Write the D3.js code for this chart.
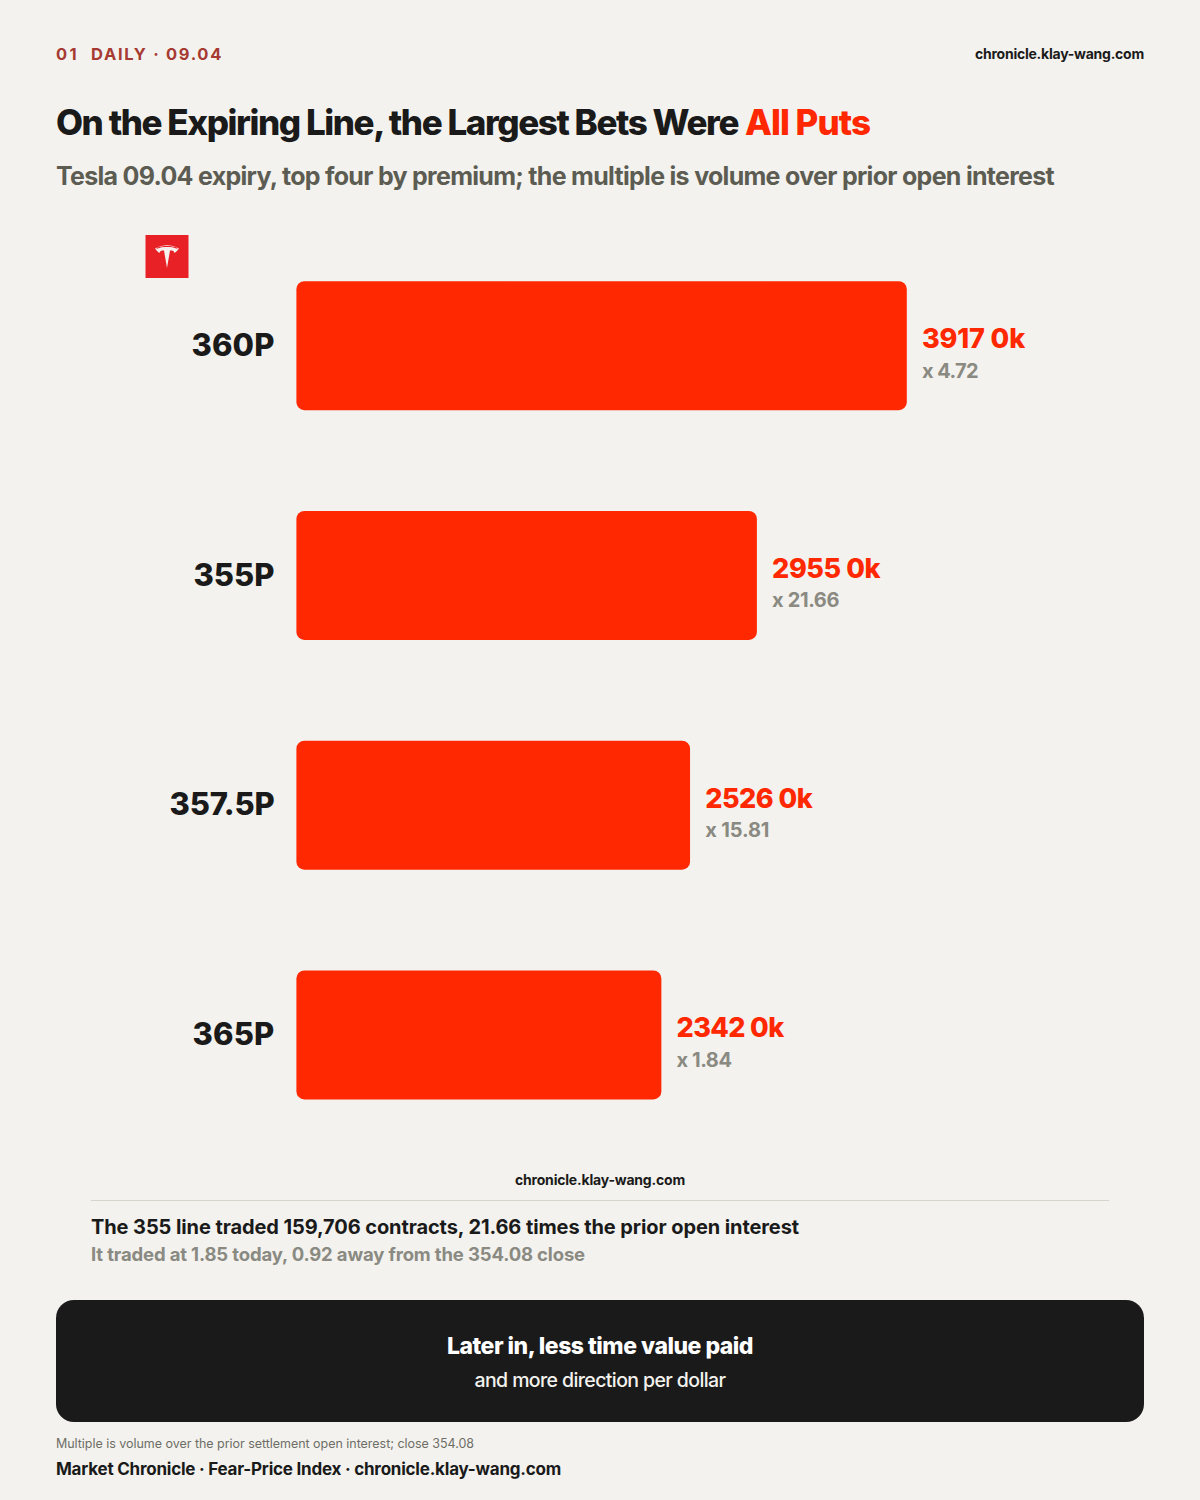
<!DOCTYPE html>
<html><head><meta charset="utf-8">
<script src="https://cdn.jsdelivr.net/npm/d3@7"></script>
<style>html,body{margin:0;padding:0;background:#f3f2ee}svg{display:block}text{font-family:Inter,sans-serif;white-space:pre}</style>
</head><body><svg id="c" width="1200" height="1500"></svg>
<script>
const strikes = ["360P","355P","357.5P","365P"];
const premiums = [3917,2955,2526,2342];
const premiumLabels = ["3917 0k","2955 0k","2526 0k","2342 0k"];
const multiples = ["x 4.72","x 21.66","x 15.81","x 1.84"];
const premiumLabelWidths = [103,108,107,107];
const multipleWidths = [56,67,64,55];
const strikeWidths = [83,81,105,82];

const RED="#ff2800", INK="#1a1a1a", GREY="#8a8a82";
const svg=d3.select("#c");
svg.append("rect").attr("width",1200).attr("height",1500).attr("fill","#f3f2ee");
// Tighten a text's tracking until it spans the measured width.
function fit(t,w){
  const n=t.text().length, len=t.node().getComputedTextLength();
  t.attr("letter-spacing",(w-len)/n);
  return t;
}
function T(x,y,s,size,weight,fill,w,anchor){
  const t=svg.append("text").attr("x",x).attr("y",y).text(s).attr("font-size",size).attr("font-weight",weight).attr("fill",fill);
  if(anchor)t.attr("text-anchor",anchor);
  if(w)fit(t,w);
  return t;
}
T(56,60,"01",16.5,700,"#a63a32",23);
T(91,60,"DAILY · 09.04",16.5,700,"#a63a32",132);
T(1144,59,"chronicle.klay-wang.com",14,700,INK,169,"end");
T(56,135,"On the Expiring Line, the Largest Bets Were",35,800,INK,682);
T(745,135,"All Puts",35,800,RED,125);
T(56,185,"Tesla 09.04 expiry, top four by premium; the multiple is volume over prior open interest",25,700,"#5c5c52",998);

// Logo
const logo=svg.append("g").attr("transform","translate(145.5,235)");
logo.append("rect").attr("width",43).attr("height",43).attr("fill","#e82127");
logo.append("path").attr("fill","#f6f1ee").attr("d","M21.5 33 L24.5 15.5 C27.5 15.5 28.5 16 29 18 C31 16.5 32 15.5 33.5 13.5 C29 10.8 25 10.2 21.5 10.2 C18 10.2 14 10.8 9.5 13.5 C11 15.5 12 16.5 14 18 C14.5 16 15.5 15.5 18.5 15.5 Z");
logo.append("path").attr("fill","#e82127").attr("d","M10.8 13 C14 11.4 18 11 21.5 11 C25 11 29 11.4 32.2 13 L31.6 13.7 C28.5 12.4 25 12 21.5 12 C18 12 14.5 12.4 11.4 13.7 Z");

const x=d3.scaleLinear().domain([0,3917]).range([296.4,906.8]);
const y=d3.scalePoint().domain(strikes).range([345.7,1034.9]);
const h=129;
const rows=svg.selectAll("g.row").data(strikes.map((s,i)=>({s,v:premiums[i],l:premiumLabels[i],m:multiples[i],i}))).enter().append("g").attr("class","row");
rows.append("rect").attr("x",x(0)).attr("y",d=>y(d.s)-h/2).attr("width",d=>x(d.v)-x(0)).attr("height",h).attr("rx",8).attr("fill",RED);
rows.append("text").attr("x",274.5).attr("y",d=>y(d.s)+10.3).attr("text-anchor","end").attr("font-size",31).attr("font-weight",800).attr("fill",INK).text(d=>d.s).each(function(d){fit(d3.select(this),strikeWidths[d.i]);});
rows.append("text").attr("x",d=>x(d.v)+15.2).attr("y",d=>y(d.s)+2.5).attr("font-size",27).attr("font-weight",800).attr("fill",RED).text(d=>d.l).each(function(d){fit(d3.select(this),premiumLabelWidths[d.i]);});
rows.append("text").attr("x",d=>x(d.v)+15.2).attr("y",d=>y(d.s)+31.8).attr("font-size",20).attr("font-weight",700).attr("fill",GREY).text(d=>d.m).each(function(d){fit(d3.select(this),multipleWidths[d.i]);});

T(600,1185,"chronicle.klay-wang.com",14,700,INK,170,"middle");
svg.append("line").attr("x1",91).attr("x2",1109).attr("y1",1200.5).attr("y2",1200.5).attr("stroke","#d6d5cc");
T(91,1233.7,"The 355 line traded 159,706 contracts, 21.66 times the prior open interest",20,700,INK,708);
T(91,1260.7,"It traded at 1.85 today, 0.92 away from the 354.08 close",18.5,700,GREY,494);

svg.append("rect").attr("x",56).attr("y",1300).attr("width",1088).attr("height",122).attr("rx",18).attr("fill",INK);
T(600,1353.7,"Later in, less time value paid",23,800,"#ffffff",306,"middle");
T(600,1387,"and more direction per dollar",19.5,500,"#f3f2ee",251,"middle");

T(56,1447.5,"Multiple is volume over the prior settlement open interest; close 354.08",12.5,400,"#6e6e66",418);
T(56,1475,"Market Chronicle · Fear-Price Index · chronicle.klay-wang.com",17,700,INK,505);
</script></body></html>
